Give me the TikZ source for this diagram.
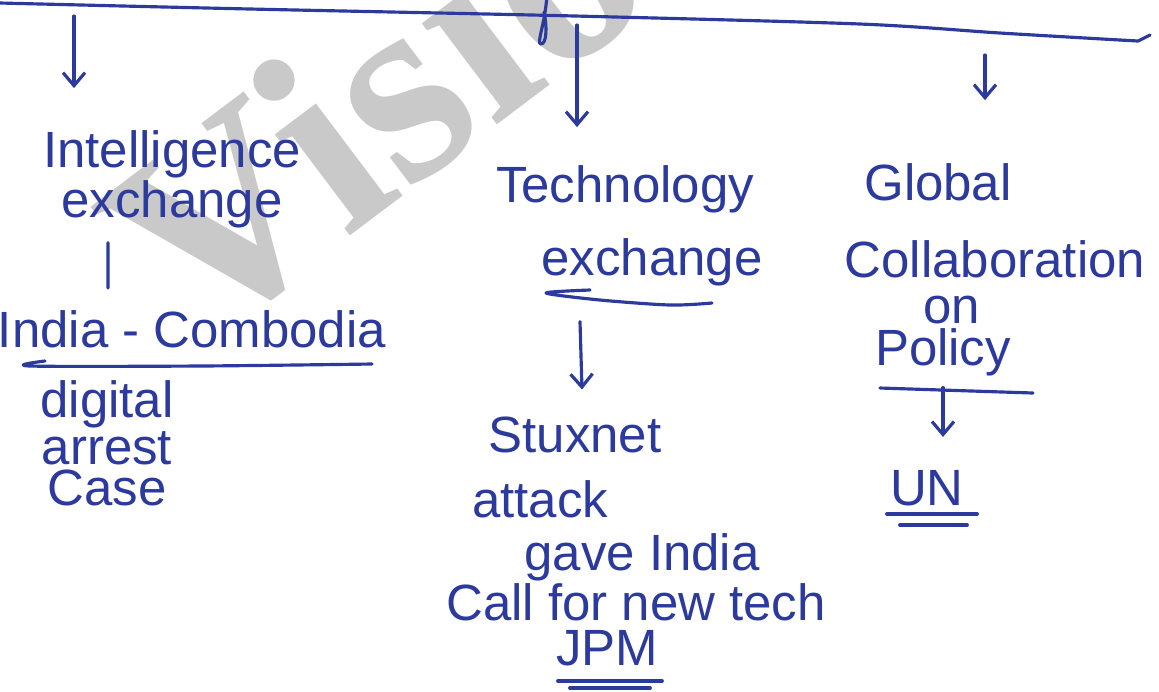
\documentclass[tikz,border=0pt]{standalone}
\usepackage{fontspec}
\setmainfont{Liberation Sans}
\newfontfamily\wmfont{Liberation Serif}
\usetikzlibrary{arrows.meta,calc}
\definecolor{ink}{HTML}{2B3A9C}
\definecolor{wmgray}{HTML}{C9C9C9}
\begin{document}
\begin{tikzpicture}[x=0.1mm,y=-0.1mm,
  every node/.style={inner sep=0pt,outer sep=0pt},
  hand/.style={ink,font=\fontsize{14.5}{14.5}\selectfont,anchor=base},
  stack/.style={hand,align=center,font=\fontsize{14.5}{11.4}\selectfont},
  pen/.style={ink,line width=0.9pt,line cap=round,line join=round},
  arr/.style={pen,-{Straight Barb[length=1.3mm,width=2.2mm,line width=0.9pt]}},
  dbl/.style={pen,line width=1.1pt}]
\useasboundingbox (0,0) rectangle (1159,691);
\fill[white] (0,0) rectangle (1159,691);
% watermark behind the ink
\begin{scope}
\clip (0,0) rectangle (1159,691);
\node[wmgray,anchor=base west,rotate=37,font=\wmfont\bfseries\fontsize{78}{78}\selectfont] (wm) at (196,352) {Vision};
\end{scope}

% top bar and the descender crossing it
\draw[pen] plot[smooth] coordinates {(0,3) (250,9) (575,16) (860,24) (1000,33) (1120,40)};
\draw[pen] (1120,40) -- (1138,41) -- (1150,35);
\draw[pen] (547,-5) .. controls (545,25) and (536,44) .. (541,44) .. controls (547,44) and (547,25) .. (544,12);
\coordinate (tl) at (74,16);
\coordinate (tm) at (577,25);
\coordinate (tr) at (985,55);

% left branch
\node[hand] (intel) at (172,167) {Intelligence};
\node[hand] (intex) at (172,217) {exchange};
\node[hand] (india) at (192,347) {India - Combodia};
\node[stack] (dac) at (107,505) {digital\\arrest\\Case};
\draw[arr] (tl) -- ([yshift=4.2mm]tl |- intel.north);
\draw[pen] ([xshift=-6.4mm,yshift=-1.5mm]intex.south) -- ([xshift=-8.4mm,yshift=2.2mm]india.north);
\draw[pen] plot[smooth] coordinates {(45,361) (30,366) (200,366) (372,364)};

% middle branch
\node[hand] (tech) at (625,202) {Technology};
\node[hand] (tex) at (652,275) {exchange};
\node[hand] (stux) at (575,452) {Stuxnet};
\node[hand] (att) at (540,517) {attack};
\node[hand] (gave) at (642,570) {gave India};
\node[hand] (call) at (636,620) {Call for new tech};
\node[hand] (jpm) at (607,665) {JPM};
\draw[arr] (tm) -- ([yshift=3.8mm]tm |- tech.north);
\draw[pen] plot[smooth] coordinates {(590,290) (546,293) (600,300) (670,305) (712,303)};
\draw[arr] ([yshift=-3.6mm]tex.south -| 580,0) -- ([yshift=2.7mm]stux.north -| 582,0);
\draw[dbl] (558,681) -- (662,681);
\draw[dbl] (570,688) -- (650,688);

% right branch
\node[hand] (glob) at (938,200) {Global};
\node[hand] (coll) at (995,277) {Collaboration};
\node[hand] (on) at (952,323) {on};
\node[hand] (pol) at (943,365) {Policy};
\node[hand] (un) at (927,505) {UN};
\draw[arr] (tr) -- ([yshift=6.3mm]tr |- glob.north);
\draw[pen] (880,388) -- (1033,393);
\draw[arr] ([yshift=-1.2mm]pol.south -| 943,0) -- ([yshift=3.3mm]un.north -| 943,0);
\draw[dbl] (887,514) -- (977,514);
\draw[dbl] (900,525) -- (967,525);
\end{tikzpicture}
\end{document}
